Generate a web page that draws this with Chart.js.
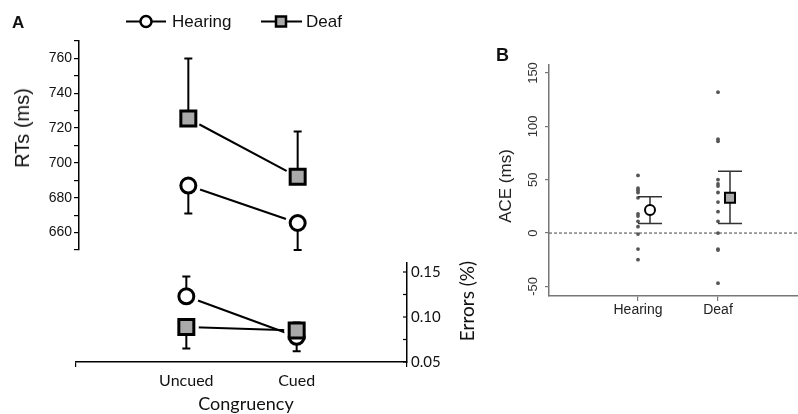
<!DOCTYPE html>
<html>
<head>
<meta charset="utf-8">
<script src="https://cdn.jsdelivr.net/npm/chart.js@4.4.0/dist/chart.umd.min.js"></script>
<style>
body{margin:0;width:798px;height:414px;background:#fff;position:relative;overflow:hidden;font-family:'Liberation Sans',Arial,sans-serif;color:#111;}
canvas{position:absolute;}
.t{position:absolute;white-space:nowrap;line-height:1;}
</style>
</head>
<body>
<canvas id="rt" width="420" height="262" style="left:0;top:0"></canvas>
<canvas id="err" width="480" height="164" style="left:0;top:250px"></canvas>
<canvas id="ace" width="318" height="290" style="left:480px;top:40px"></canvas>

<div class="t" style="left:12px;top:14px;font-weight:bold;font-size:17px">A</div>
<div class="t" style="left:496px;top:46px;font-weight:bold;font-size:18px">B</div>
<div class="t" style="left:172px;top:21px;transform:translateY(-50%);font-size:17px">Hearing</div>
<div class="t" style="left:306px;top:21px;transform:translateY(-50%);font-size:17px">Deaf</div>
<div class="t" style="left:22px;top:128px;transform:translate(-50%,-50%) rotate(-90deg);font-size:20px">RTs (ms)</div>
<div class="t" style="left:466px;top:301px;transform:translate(-50%,-50%) rotate(-90deg);font-size:19px;font-family:Lato">Errors (%)</div>
<div class="t" style="left:246px;top:403px;transform:translate(-50%,-50%);font-size:18px;font-family:Lato">Congruency</div>
<div class="t" style="left:505px;top:186px;transform:translate(-50%,-50%) rotate(-90deg);font-size:17px;color:#222">ACE (ms)</div>

<script>
// panel A
const categoriesA = ['Uncued', 'Cued'];
const hearingRT = [687, 665.5];
const deafRT = [725.5, 692];
const hearingRTbar = [671, 650];
const deafRTbar = [760, 718];
const rtTicks = [650, 660, 670, 680, 690, 700, 710, 720, 730, 740, 750, 760, 770];
const rtLabelled = [660, 680, 700, 720, 740, 760];

const hearingErr = [0.123, 0.078];
const deafErr = [0.089, 0.085];
const hearingErrBar = [0.145, 0.062];
const deafErrBar = [0.065, 0.094];
const errTicks = [0.05, 0.075, 0.1, 0.125, 0.15];
const errLabels = ['0.05', '', '0.10', '', '0.15'];

// panel B
const categoriesB = ['Hearing', 'Deaf'];
const hearingAce = [54, 42, 40, 38, 33, 18, 16, 11, 6, -1, -15, -25];
const deafAce = [132, 88, 86, 50, 46, 44, 38, 29, 20, 11, 0, -15, -16, -47];
const meanAce = [21.5, 33];
const aceHi = [34, 58];
const aceLo = [9, 9];
const aceTicks = [-50, 0, 50, 100, 150];

const pts = (arr) => arr.map((v, i) => ({x: i + 1, y: v}));

const errorBars = {
  id: 'errorBars',
  beforeDatasetDraw(chart, args) {
    const ds = chart.data.datasets[args.index];
    if (!ds.errEnds) return;
    const ctx = chart.ctx, xs = chart.scales.x, ys = chart.scales.y;
    ctx.save();
    ctx.strokeStyle = ds.errColor || '#000';
    ctx.lineWidth = ds.errWidth || 2;
    ds.data.forEach((p, i) => {
      const px = xs.getPixelForValue(p.x), py = ys.getPixelForValue(p.y);
      ds.errEnds.forEach(ends => {
        const ey = ys.getPixelForValue(ends[i]);
        ctx.beginPath();
        ctx.moveTo(px, py); ctx.lineTo(px, ey);
        ctx.moveTo(px - ds.capW / 2, ey); ctx.lineTo(px + ds.capW / 2, ey);
        ctx.stroke();
      });
    });
    ctx.restore();
  }
};
Chart.register(errorBars);

function seriesA(hear, deaf, hearBar, deafBar) {
  return [
    {data: pts(hear), showLine: true, borderColor: '#000', borderWidth: 2, pointRadius: 0, order: 3},
    {data: pts(deaf), showLine: true, borderColor: '#000', borderWidth: 2, pointRadius: 0, order: 3},
    {data: pts(hear), pointRadius: 12.5, pointBorderWidth: 0, pointBackgroundColor: '#fff', order: 2},
    {data: pts(deaf), pointRadius: 12.5, pointBorderWidth: 0, pointBackgroundColor: '#fff', order: 2},
    {data: pts(hear), pointStyle: 'circle', pointRadius: 7.5, pointBorderWidth: 3, pointBorderColor: '#000',
     pointBackgroundColor: '#fff', errEnds: [hearBar], capW: 8, order: 1},
    {data: pts(deaf), pointStyle: 'rect', pointRadius: 10.6, pointBorderWidth: 3, pointBorderColor: '#000',
     pointBackgroundColor: '#a9a9a9', errEnds: [deafBar], capW: 8, order: 0}
  ];
}

const legendA = {
  id: 'legendA',
  afterDraw(chart) {
    const ctx = chart.ctx;
    ctx.save();
    ctx.strokeStyle = '#000';
    ctx.lineWidth = 2;
    ctx.beginPath(); ctx.moveTo(126, 21.5); ctx.lineTo(166, 21.5); ctx.moveTo(261, 21.5); ctx.lineTo(302, 21.5); ctx.stroke();
    ctx.lineWidth = 2.5;
    ctx.fillStyle = '#fff';
    ctx.beginPath(); ctx.arc(146, 21.5, 5.5, 0, Math.PI * 2); ctx.fill(); ctx.stroke();
    ctx.fillStyle = '#a9a9a9';
    ctx.beginPath(); ctx.rect(276, 16.5, 10, 10); ctx.fill(); ctx.stroke();
    ctx.restore();
  }
};

const common = {
  responsive: false,
  animation: false,
  plugins: {legend: {display: false}, tooltip: {enabled: false}}
};

new Chart(document.getElementById('rt'), {
  type: 'scatter',
  data: {datasets: seriesA(hearingRT, deafRT, hearingRTbar, deafRTbar)},
  plugins: [legendA],
  options: {
    ...common,
    layout: {autoPadding: false, padding: {top: 41, bottom: 12, left: 0, right: 13}},
    scales: {
      x: {type: 'linear', min: 0, max: 3, display: false},
      y: {
        type: 'linear', min: 650, max: 770,
        afterBuildTicks: s => { s.ticks = rtTicks.map(v => ({value: v})); },
        afterFit: s => { s.width = 79; },
        border: {display: true, color: '#000', width: 1.5},
        grid: {drawOnChartArea: false, drawTicks: true, tickLength: 5, color: '#000', lineWidth: 1.2},
        ticks: {autoSkip: false, padding: 2, color: '#111', font: {family: 'Liberation Sans', size: 14},
                callback: v => rtLabelled.includes(v) ? String(v) : ''}
      }
    }
  }
});

const inTicks = {
  id: 'inTicks',
  afterDraw(chart) {
    const ctx = chart.ctx, ys = chart.scales.y, r = chart.chartArea.right;
    ctx.save();
    ctx.strokeStyle = '#000';
    ctx.lineWidth = 1.2;
    errTicks.forEach(v => {
      const py = ys.getPixelForValue(v);
      ctx.beginPath(); ctx.moveTo(r - 4, py); ctx.lineTo(r, py); ctx.stroke();
    });
    ctx.restore();
  }
};

new Chart(document.getElementById('err'), {
  type: 'scatter',
  data: {datasets: seriesA(hearingErr, deafErr, hearingErrBar, deafErrBar)},
  plugins: [inTicks],
  options: {
    ...common,
    layout: {autoPadding: false, padding: {top: 10, bottom: 0, left: 76, right: 0}},
    scales: {
      x: {
        type: 'linear', min: 0, max: 3, position: 'bottom',
        afterBuildTicks: s => { s.ticks = [0, 1, 2, 3].map(v => ({value: v})); },
        afterFit: s => { s.height = 52; },
        border: {display: true, color: '#000', width: 1.5},
        grid: {drawOnChartArea: false, tickLength: 5, lineWidth: 1.2,
               color: c => (c.tick && (c.tick.value === 0 || c.tick.value === 3)) ? '#000' : 'rgba(0,0,0,0)'},
        ticks: {autoSkip: false, maxRotation: 0, padding: 4, color: '#111', font: {family: 'Lato', size: 16},
                callback: v => categoriesA[v - 1] || ''}
      },
      y: {
        type: 'linear', position: 'right', min: 0.05, max: 0.16,
        afterBuildTicks: s => { s.ticks = errTicks.map(v => ({value: v})); },
        afterFit: s => { s.width = 73; },
        border: {display: true, color: '#000', width: 1.5},
        grid: {drawOnChartArea: false, drawTicks: false},
        ticks: {autoSkip: false, padding: 4, color: '#111', font: {family: 'Lato', size: 15},
                callback: (v, i) => errLabels[i]}
      }
    }
  }
});

const meanOffset = 0.15;
new Chart(document.getElementById('ace'), {
  type: 'scatter',
  data: {
    datasets: [
      {data: [{x: -0.1125, y: 0}, {x: 3, y: 0}], showLine: true, borderColor: '#444', borderWidth: 1,
       borderDash: [3, 2], pointRadius: 0, order: 5},
      {data: hearingAce.map(v => ({x: 1, y: v})), pointRadius: 1.9, pointBorderWidth: 0, pointBackgroundColor: '#555', order: 3},
      {data: deafAce.map(v => ({x: 2, y: v})), pointRadius: 1.9, pointBorderWidth: 0, pointBackgroundColor: '#555', order: 3},
      {data: [{x: 1 + meanOffset, y: meanAce[0]}], pointStyle: 'circle', pointRadius: 5, pointBorderWidth: 2,
       pointBorderColor: '#000', pointBackgroundColor: '#fff', errEnds: [[aceHi[0]], [aceLo[0]]], capW: 24,
       errColor: '#333', errWidth: 1.5, order: 1},
      {data: [{x: 2 + meanOffset, y: meanAce[1]}], pointStyle: 'rect', pointRadius: 7.1, pointBorderWidth: 2,
       pointBorderColor: '#000', pointBackgroundColor: '#aaa', errEnds: [[aceHi[1]], [aceLo[1]]], capW: 24,
       errColor: '#333', errWidth: 1.5, order: 1}
    ]
  },
  options: {
    ...common,
    layout: {autoPadding: false, padding: {top: 25, bottom: 0, left: 0, right: 0}},
    scales: {
      x: {
        type: 'linear', min: -0.1125, max: 3,
        afterBuildTicks: s => { s.ticks = [1, 2].map(v => ({value: v})); },
        afterFit: s => { s.height = 34; },
        border: {display: true, color: '#777', width: 1.5},
        grid: {drawOnChartArea: false, tickLength: 5, color: '#777', lineWidth: 1.2},
        ticks: {autoSkip: false, maxRotation: 0, padding: 1, color: '#222', font: {family: 'Liberation Sans', size: 14},
                callback: v => categoriesB[v - 1] || ''}
      },
      y: {
        type: 'linear', min: -59, max: 157.5,
        afterBuildTicks: s => { s.ticks = aceTicks.map(v => ({value: v})); },
        afterFit: s => { s.width = 69; },
        border: {display: true, color: '#777', width: 1.5},
        grid: {drawOnChartArea: false, tickLength: 4, color: '#777', lineWidth: 1.2},
        ticks: {autoSkip: false, minRotation: 90, maxRotation: 90, crossAlign: 'center', padding: 1,
                color: '#333', font: {family: 'Liberation Sans', size: 13}}
      }
    }
  }
});
</script>
</body>
</html>
